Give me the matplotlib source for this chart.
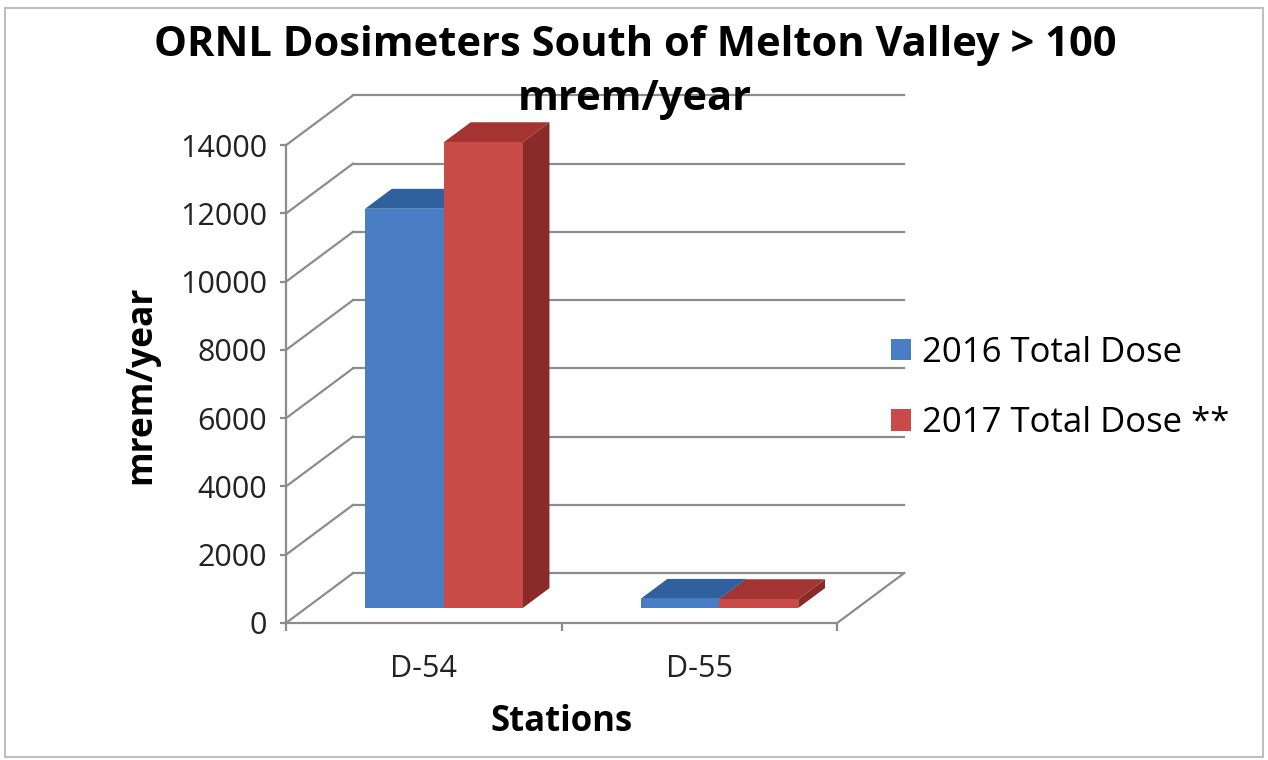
import numpy as np
import matplotlib
matplotlib.use("Agg")
import matplotlib.pyplot as plt
from matplotlib.patches import Polygon, Patch, Rectangle

# ---- data
stations = ["D-54", "D-55"]
dose_2016 = [11700, 270]
dose_2017 = [13650, 260]
series_names = ["2016 Total Dose", "2017 Total Dose **"]
y_ticks = [0, 2000, 4000, 6000, 8000, 10000, 12000, 14000]

# colours (front, top, side) per series
front_cols = ["#4A7EC4", "#C84B47"]
top_cols = ["#31609E", "#A33432"]
side_cols = ["#2B5589", "#8A2B29"]
grid_col = "#8C8C8C"

plt.rcParams["font.family"] = ["Open Sans", "DejaVu Sans"]

fig = plt.figure(figsize=(12.68, 7.6), dpi=100)
fig.patches.append(Rectangle((0.004, 0.004), 0.992, 0.985, transform=fig.transFigure,
                             fill=False, edgecolor="#BFBFBF", lw=1.5))

ax = fig.add_axes([286 / 1268, 137 / 760, 620 / 1268, 529 / 760])
ax.set_xlim(0, 2.25)
ax.set_ylim(0, 15500)

# pseudo 3d depth of the plot box (data units)
ddx, ddy = 0.243, 1460
n_cat = len(stations)
ymax = y_ticks[-1]

# side wall diagonals and back wall gridlines
for v in y_ticks:
    ax.plot([0, ddx], [v, v + ddy], color=grid_col, lw=1.6, zorder=1, clip_on=False)
    ax.plot([ddx, n_cat + ddx], [v + ddy, v + ddy], color=grid_col, lw=1.6, zorder=1, clip_on=False)
# floor right edge
ax.plot([n_cat, n_cat + ddx], [0, ddy], color=grid_col, lw=1.6, zorder=1, clip_on=False)

# bars as boxes
w = 0.286
d0, d1 = 0.3, 0.7
series = [dose_2016, dose_2017]
for j in range(n_cat):
    for i, vals in enumerate(series):
        v = vals[j]
        x0 = j + 0.5 - w + i * w
        fx, fy = d0 * ddx, d0 * ddy
        bx, by = d1 * ddx, d1 * ddy
        front = [(x0 + fx, fy), (x0 + w + fx, fy), (x0 + w + fx, v + fy), (x0 + fx, v + fy)]
        top = [(x0 + fx, v + fy), (x0 + w + fx, v + fy), (x0 + w + bx, v + by), (x0 + bx, v + by)]
        side = [(x0 + w + fx, fy), (x0 + w + bx, by), (x0 + w + bx, v + by), (x0 + w + fx, v + fy)]
        z = 3 + i
        ax.add_patch(Polygon(side, closed=True, facecolor=side_cols[i], edgecolor="none", zorder=z))
        ax.add_patch(Polygon(top, closed=True, facecolor=top_cols[i], edgecolor="none", zorder=z))
        ax.add_patch(Polygon(front, closed=True, facecolor=front_cols[i], edgecolor="none", zorder=z))

# axes lines
for s in ["top", "right"]:
    ax.spines[s].set_visible(False)
ax.spines["left"].set_bounds(0, ymax)
ax.spines["bottom"].set_bounds(0, n_cat)
for s in ["left", "bottom"]:
    ax.spines[s].set_color(grid_col)
    ax.spines[s].set_linewidth(1.6)

ax.set_yticks(y_ticks)
ax.set_yticklabels([str(t) for t in y_ticks])
ax.tick_params(axis="y", direction="out", length=4.5, width=1.6, color=grid_col,
               labelsize=22, pad=9, labelcolor="#222222")
ax.set_xticks(np.arange(n_cat + 1))
ax.set_xticklabels([])
ax.set_xticks(np.arange(n_cat) + 0.5, minor=True)
ax.set_xticklabels(stations, minor=True)
ax.tick_params(axis="x", which="major", direction="out", length=6, width=1.6, color=grid_col)
ax.tick_params(axis="x", which="minor", length=0, labelsize=22, pad=22, labelcolor="#222222")

ax.set_ylabel("mrem/year", fontsize=25.5, fontweight="bold")
ax.yaxis.set_label_coords(-0.205, 0.45)

fig.text(562 / 1268, 1 - 722 / 760, "Stations", ha="center", va="center",
         fontsize=25, fontweight="bold")

fig.text(635 / 1268, 1 - 45 / 760, "ORNL Dosimeters South of Melton Valley > 100",
         ha="center", va="center", fontsize=30, fontweight="bold")
fig.text(635 / 1268, 1 - 100 / 760, "mrem/year", ha="center", va="center",
         fontsize=30, fontweight="bold", zorder=10)

handles = [Patch(facecolor=c, edgecolor="none") for c in front_cols]
fig.legend(handles, series_names, loc="center left", bbox_to_anchor=(891 / 1268, 1 - 388 / 760),
           frameon=False, fontsize=25, handlelength=0.58, handleheight=0.58,
           handletextpad=0.3, labelspacing=1.05, borderpad=0, borderaxespad=0)

fig.savefig("out.png", dpi=100, facecolor="white")
